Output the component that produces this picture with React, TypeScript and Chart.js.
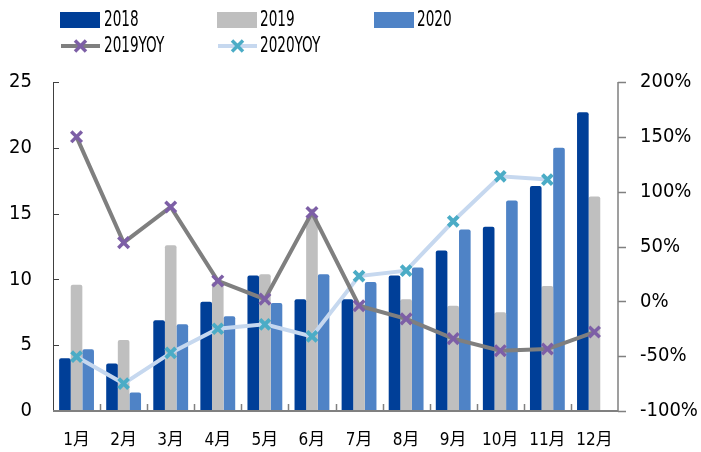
import React, { useEffect, useRef } from "react";
import { Chart, registerables } from "chart.js";

Chart.register(...registerables);

const months = ["1月", "2月", "3月", "4月", "5月", "6月", "7月", "8月", "9月", "10月", "11月", "12月"];
const v2018 = [4.0, 3.6, 6.9, 8.3, 10.3, 8.5, 8.5, 10.3, 12.2, 14.0, 17.1, 22.7];
const v2019 = [9.6, 5.4, 12.6, 9.8, 10.4, 14.8, 8.2, 8.5, 8.0, 7.5, 9.5, 16.3];
const v2020 = [4.7, 1.4, 6.6, 7.2, 8.2, 10.4, 9.8, 10.9, 13.8, 16.0, 20.0, null];
const yoy2019 = [150, 53.5, 86, 18.6, 2, 81, -4, -16, -34, -45, -43.5, -28];
const yoy2020 = [-50.5, -75, -47, -25, -21, -32, 23, 28, 73, 114, 111, null];
const leftTicks = [0, 5, 10, 15, 20, 25];
const rightTicks = [-100, -50, 0, 50, 100, 150, 200];

const C2018 = "#003F98";
const C2019 = "#BFBFBF";
const C2020 = "#4F83C6";
const CYOY19 = "#7F7F7F";
const CYOY19M = "#7D5FA6";
const CYOY20 = "#C6D8EF";
const CYOY20M = "#4BACC6";

const TICK_FONT = '"DejaVu Sans Condensed", "Noto Sans CJK SC", sans-serif';
const LEGEND_FONT = '"DejaVu Sans Condensed", sans-serif';

function drawX(ctx: CanvasRenderingContext2D, x: number, y: number, r: number, color: string, lw: number) {
  ctx.save();
  ctx.strokeStyle = color;
  ctx.lineWidth = lw;
  ctx.beginPath();
  ctx.moveTo(x - r, y - r);
  ctx.lineTo(x + r, y + r);
  ctx.moveTo(x + r, y - r);
  ctx.lineTo(x - r, y + r);
  ctx.stroke();
  ctx.restore();
}

function condensedText(ctx: CanvasRenderingContext2D, text: string, x: number, y: number, sx: number) {
  ctx.save();
  ctx.translate(x, y);
  ctx.scale(sx, 1);
  ctx.fillText(text, 0, 0);
  ctx.restore();
}

const customPlugin = {
  id: "customAxesLegend",
  afterDraw(chart: any) {
    const ctx: CanvasRenderingContext2D = chart.ctx;
    const { left, right, top, bottom } = chart.chartArea;
    const yl = chart.scales.y;
    const yr = chart.scales.y1;
    ctx.save();
    // left axis
    ctx.strokeStyle = "#404040";
    ctx.lineWidth = 1;
    ctx.beginPath();
    ctx.moveTo(left + 0.5, top);
    ctx.lineTo(left + 0.5, bottom);
    leftTicks.forEach((t) => {
      const y = Math.round(yl.getPixelForValue(t)) + 0.5;
      ctx.moveTo(left, y);
      ctx.lineTo(left + 6, y);
    });
    ctx.stroke();
    // right axis
    ctx.strokeStyle = "#808080";
    ctx.lineWidth = 1.5;
    ctx.beginPath();
    ctx.moveTo(right, top);
    ctx.lineTo(right, bottom);
    rightTicks.forEach((t) => {
      const y = Math.round(yr.getPixelForValue(t)) + 0.5;
      ctx.moveTo(right, y);
      ctx.lineTo(right + 8, y);
    });
    ctx.stroke();
    // x axis
    ctx.strokeStyle = "#808080";
    ctx.lineWidth = 2;
    ctx.beginPath();
    ctx.moveTo(left, bottom);
    ctx.lineTo(right, bottom);
    ctx.stroke();
    ctx.lineWidth = 1.5;
    ctx.beginPath();
    const n = months.length;
    const w = (right - left) / n;
    for (let i = 1; i < n; i++) {
      const x = Math.round(left + i * w) + 0.5;
      ctx.moveTo(x, bottom);
      ctx.lineTo(x, bottom - 7);
    }
    ctx.stroke();

    // legend
    ctx.font = "21px " + LEGEND_FONT;
    ctx.fillStyle = "#000";
    ctx.textBaseline = "middle";
    ctx.textAlign = "left";
    const row1 = 20;
    const row2 = 46;
    const sx = 0.72;
    const boxes = [
      { x: 60, text: "2018", color: C2018, tx: 104 },
      { x: 217, text: "2019", color: C2019, tx: 260 },
      { x: 374, text: "2020", color: C2020, tx: 417 },
    ];
    boxes.forEach((b) => {
      ctx.fillStyle = b.color;
      ctx.fillRect(b.x, row1 - 8, 40, 16);
      ctx.fillStyle = "#000";
      condensedText(ctx, b.text, b.tx, row1 + 1, sx);
    });
    const lines = [
      { x: 61, text: "2019YOY", color: CYOY19, mcolor: CYOY19M, tx: 104 },
      { x: 218, text: "2020YOY", color: CYOY20, mcolor: CYOY20M, tx: 260 },
    ];
    lines.forEach((l) => {
      ctx.strokeStyle = l.color;
      ctx.lineWidth = 4;
      ctx.beginPath();
      ctx.moveTo(l.x, row2);
      ctx.lineTo(l.x + 39, row2);
      ctx.stroke();
      drawX(ctx, l.x + 19.5, row2, 5.5, l.mcolor, 3.5);
      ctx.fillStyle = "#000";
      condensedText(ctx, l.text, l.tx, row2 + 1, sx);
    });
    ctx.restore();
  },
};

export default function App() {
  const ref = useRef<HTMLCanvasElement | null>(null);
  useEffect(() => {
    if (!ref.current) return;
    const barCommon = {
      type: "bar" as const,
      yAxisID: "y",
      barPercentage: 1,
      categoryPercentage: 0.74,
      borderWidth: 0,
      borderRadius: { topLeft: 2, topRight: 2, bottomLeft: 0, bottomRight: 0 },
      borderSkipped: "bottom" as const,
      order: 3,
    };
    const chart = new Chart(ref.current, {
      type: "bar",
      data: {
        labels: months,
        datasets: [
          { ...barCommon, label: "2018", data: v2018, backgroundColor: C2018 },
          { ...barCommon, label: "2019", data: v2019, backgroundColor: C2019 },
          { ...barCommon, label: "2020", data: v2020 as any, backgroundColor: C2020 },
          {
            type: "line",
            label: "2019YOY",
            data: yoy2019,
            yAxisID: "y1",
            borderColor: CYOY19,
            borderWidth: 4,
            pointStyle: "crossRot",
            pointRadius: 7.5,
            pointBorderColor: CYOY19M,
            pointBorderWidth: 3.5,
            pointBackgroundColor: CYOY19M,
            tension: 0,
            order: 0,
          } as any,
          {
            type: "line",
            label: "2020YOY",
            data: yoy2020,
            yAxisID: "y1",
            borderColor: CYOY20,
            borderWidth: 4,
            pointStyle: "crossRot",
            pointRadius: 7,
            pointBorderColor: CYOY20M,
            pointBorderWidth: 4,
            pointBackgroundColor: CYOY20M,
            tension: 0,
            order: 1,
          } as any,
        ],
      },
      options: {
        responsive: false,
        animation: false,
        layout: { padding: { top: 82, left: 0, right: 0, bottom: 0 } },
        plugins: {
          legend: { display: false },
          tooltip: { enabled: false },
          title: { display: false },
        },
        scales: {
          x: {
            grid: { display: false },
            border: { display: false },
            ticks: {
              color: "#000",
              font: { family: TICK_FONT, size: 17 },
              padding: 11,
              maxRotation: 0,
              autoSkip: false,
            },
            afterFit: (s: any) => {
              s.height = 41;
            },
          },
          y: {
            position: "left",
            min: 0,
            max: 25,
            grid: { display: false },
            border: { display: false },
            ticks: {
              stepSize: 5,
              color: "#000",
              font: { family: TICK_FONT, size: 20 },
              padding: 13,
            },
            afterFit: (s: any) => {
              s.width = 53;
            },
          },
          y1: {
            position: "right",
            min: -100,
            max: 200,
            grid: { display: false },
            border: { display: false },
            ticks: {
              stepSize: 50,
              color: "#000",
              font: { family: TICK_FONT, size: 20 },
              padding: 14,
              callback: (v: any) => v + "%",
            },
            afterFit: (s: any) => {
              s.width = 83;
            },
          },
        },
      },
      plugins: [customPlugin],
    });
    return () => chart.destroy();
  }, []);
  return (
    <div style={{ position: "fixed", left: 0, top: 0, width: 701, height: 452, background: "#fff" }}>
      <canvas ref={ref} width={701} height={452} />
    </div>
  );
}
